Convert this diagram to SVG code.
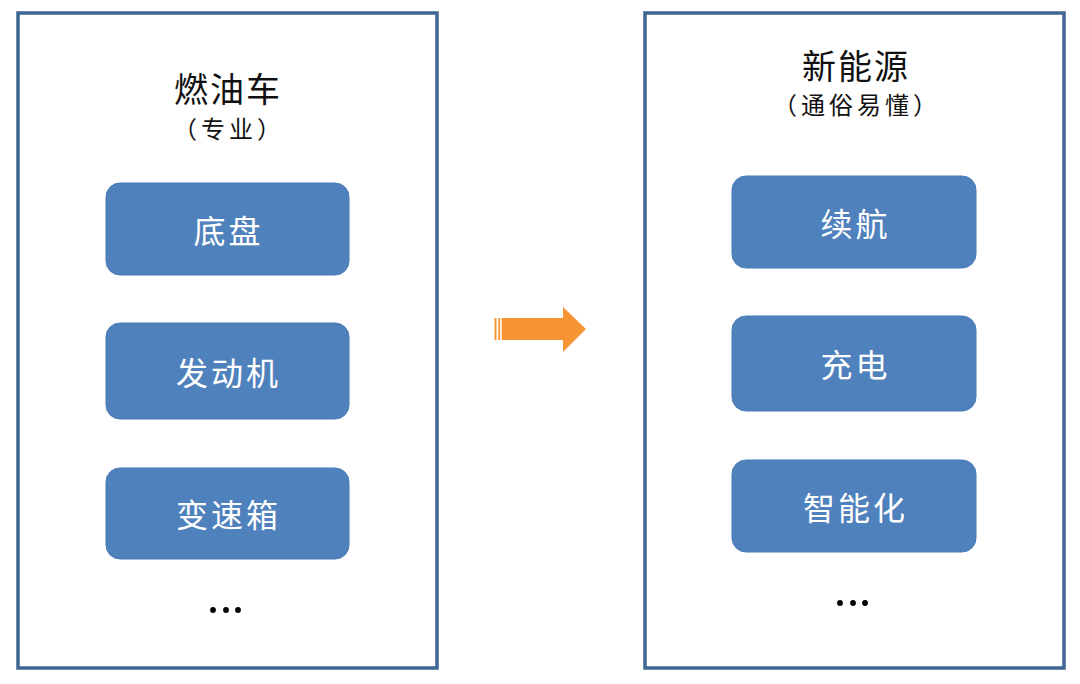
<svg xmlns="http://www.w3.org/2000/svg" width="1080" height="684" viewBox="0 0 1080 684">
<style>
.panel{fill:#FFFFFF;stroke:#3F6593;stroke-width:3.5}
.node{fill:#4F81BD;stroke:#4A7AB5;stroke-width:1}
.title{font-family:"Noto Sans CJK SC",sans-serif;font-size:34px;fill:#111;text-anchor:middle;letter-spacing:2px}
.sub{font-family:"Noto Sans CJK SC",sans-serif;font-size:24px;fill:#111;text-anchor:middle;letter-spacing:4px}
.label{font-family:"Noto Sans CJK SC",sans-serif;font-size:32px;fill:#FFFFFF;text-anchor:middle;dominant-baseline:central;letter-spacing:3px}
.dot{fill:#000}
.arrow{fill:#F79433}
</style>
<rect width="1080" height="684" fill="#FFFFFF"/>
<g id="panel-left">
<rect class="panel" x="18" y="13" width="419" height="655"/>
<text class="title" x="228" y="102">燃油车</text>
<text class="sub" x="229" y="138">（专业）</text>
</g>
<g id="panel-right">
<rect class="panel" x="645" y="13" width="419" height="655"/>
<text class="title" x="856" y="79">新能源</text>
<text class="sub" x="857" y="114">（通俗易懂）</text>
</g>
<g id="node-dipan"><rect class="node" x="106" y="183" width="243" height="92" rx="14"/><text class="label" x="228.5" y="229">底盘</text></g>
<g id="node-fadongji"><rect class="node" x="106" y="323" width="243" height="96" rx="14"/><text class="label" x="228.5" y="371">发动机</text></g>
<g id="node-biansuxiang"><rect class="node" x="106" y="468" width="243" height="91" rx="14"/><text class="label" x="228.5" y="513">变速箱</text></g>
<g id="ellipsis-left"><circle class="dot" cx="213" cy="610" r="2.9"/><circle class="dot" cx="226" cy="610" r="2.9"/><circle class="dot" cx="238" cy="610" r="2.9"/></g>
<g id="node-xuhang"><rect class="node" x="732" y="176" width="244" height="92" rx="14"/><text class="label" x="855.5" y="222">续航</text></g>
<g id="node-chongdian"><rect class="node" x="732" y="316" width="244" height="95" rx="14"/><text class="label" x="855.5" y="363">充电</text></g>
<g id="node-zhinenghua"><rect class="node" x="732" y="460" width="244" height="92" rx="14"/><text class="label" x="855.5" y="506">智能化</text></g>
<g id="ellipsis-right"><circle class="dot" cx="840" cy="603" r="2.9"/><circle class="dot" cx="853" cy="603" r="2.9"/><circle class="dot" cx="865" cy="603" r="2.9"/></g>
<g id="connectors">
<rect class="arrow" x="494.5" y="318" width="2" height="22"/>
<rect class="arrow" x="498.3" y="318" width="1.8" height="22"/>
<path class="arrow" d="M501.7 318 H563 V307 L586 329 L563 352 V340 H501.7 Z"/>
</g>
</svg>
